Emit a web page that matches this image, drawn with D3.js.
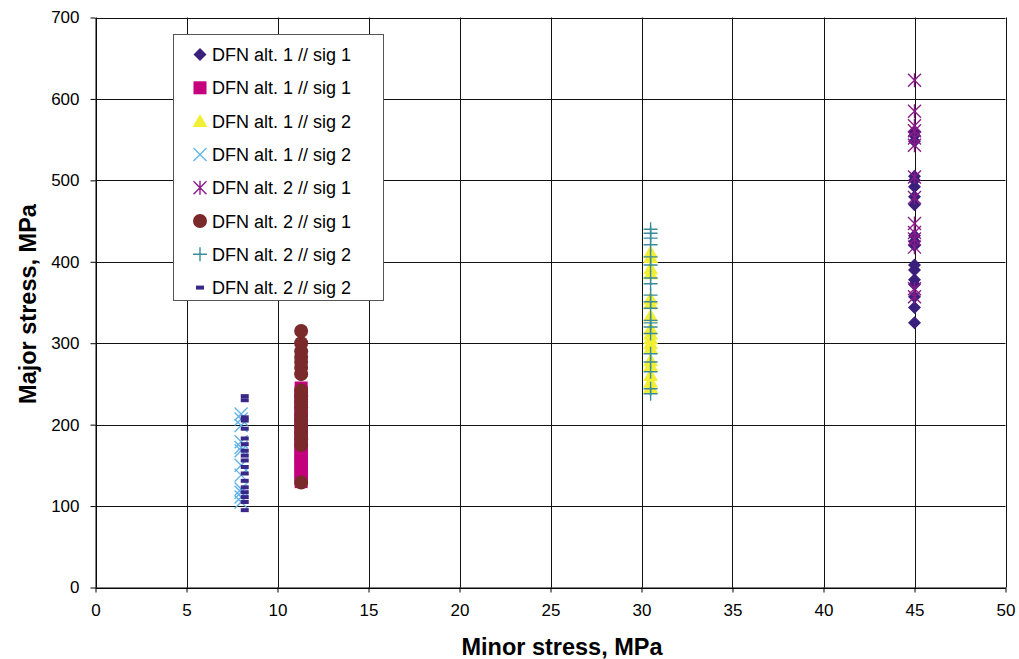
<!DOCTYPE html>
<html>
<head>
<meta charset="utf-8">
<script src="https://cdn.jsdelivr.net/npm/d3@7"></script>
<style>
  html, body { margin: 0; padding: 0; background: #fff; }
  svg { display: block; font-family: "Liberation Sans", Arial, sans-serif; }
</style>
</head>
<body>
<svg id="chart" width="1019" height="659"></svg>
<script>
// Axis ticks
const xTicks = [0, 5, 10, 15, 20, 25, 30, 35, 40, 45, 50];
const yTicks = [0, 100, 200, 300, 400, 500, 600, 700];

// Series names (legend order)
const seriesNames = [
  "DFN alt. 1 // sig 1",
  "DFN alt. 1 // sig 1",
  "DFN alt. 1 // sig 2",
  "DFN alt. 1 // sig 2",
  "DFN alt. 2 // sig 1",
  "DFN alt. 2 // sig 1",
  "DFN alt. 2 // sig 2",
  "DFN alt. 2 // sig 2"
];

// Minor stress (MPa) of each series
const minorStress = [45, 11.3, 30.5, 8.0, 45, 11.3, 30.5, 8.2];

// Major stress (MPa) values of each series
const alt1Sig1Diamond = [325, 344, 357, 372, 378, 390, 396, 420, 425, 432, 470, 480, 492, 500, 505, 548, 555, 560];
const alt1Sig1Square = [130, 134, 138, 141, 145, 148, 152, 155, 158, 162, 165, 169, 172, 176, 180, 183, 187, 190, 194, 198, 201, 205, 209, 212, 216, 220, 224, 228, 232, 236, 240, 245];
const alt1Sig2Triangle = [246, 253, 261, 273, 279, 294, 300, 306, 312, 318, 334, 349, 355, 386, 392, 406, 412];
const alt1Sig2Cross = [105, 111, 117, 121, 138, 150, 168, 172, 179, 199, 207, 213];
const alt2Sig1Asterisk = [357, 367, 418, 428, 436, 447, 479, 504, 543, 552, 561, 567, 585, 623];
const alt2Sig1Circle = [129, 175, 182, 190, 198, 205, 212, 221, 228, 235, 242, 262, 270, 277, 283, 290, 300, 315];
const alt2Sig2Plus = [238, 244, 265, 277, 287, 312, 320, 325, 328, 343, 351, 359, 373, 380, 396, 406, 421, 429, 435, 440];
const alt2Sig2Dash = [95, 105, 111, 117, 123, 131, 140, 148, 156, 162, 168, 176, 183, 195, 205, 209, 230, 235];

const seriesValues = [
  alt1Sig1Diamond, alt1Sig1Square, alt1Sig2Triangle, alt1Sig2Cross,
  alt2Sig1Asterisk, alt2Sig1Circle, alt2Sig2Plus, alt2Sig2Dash
];

// Marker style per series
const markerStyles = [
  { shape: "diamond",  color: "#3b1f7c" },
  { shape: "square",   color: "#c4007c" },
  { shape: "triangle", color: "#f2ee35" },
  { shape: "x",        color: "#62b4e8" },
  { shape: "asterisk", color: "#8a1a88" },
  { shape: "circle",   color: "#7a2a2a" },
  { shape: "plus",     color: "#3a8c9c" },
  { shape: "dash",     color: "#3a2888" }
];

const svg = d3.select("#chart");
const plotLeft = 95.5, plotRight = 1005.5, plotTop = 17.5, plotBottom = 587.5;

const x = d3.scaleLinear().domain([0, 50]).range([plotLeft, plotRight]);
const y = d3.scaleLinear().domain([0, 700]).range([plotBottom, plotTop]);

// Gridlines
const grid = svg.append("g");
grid.selectAll("line.v").data(xTicks).join("line")
  .attr("class", "v")
  .attr("x1", d => Math.round(x(d)) + 0.5).attr("x2", d => Math.round(x(d)) + 0.5)
  .attr("y1", plotTop).attr("y2", plotBottom)
  .attr("stroke", "#111").attr("stroke-width", 1);
grid.selectAll("line.h").data(yTicks).join("line")
  .attr("class", "h")
  .attr("y1", d => Math.round(y(d)) + 0.5).attr("y2", d => Math.round(y(d)) + 0.5)
  .attr("x1", plotLeft).attr("x2", plotRight)
  .attr("stroke", "#111").attr("stroke-width", 1);

// Axes
const xAxis = d3.axisBottom(x).tickValues(xTicks).tickSize(5).tickSizeOuter(0).tickPadding(11);
const yAxis = d3.axisLeft(y).tickValues(yTicks).tickSize(5).tickSizeOuter(0).tickPadding(11);

const gx = svg.append("g").attr("transform", `translate(0,${plotBottom})`).call(xAxis);
const gy = svg.append("g").attr("transform", `translate(${plotLeft},0)`).call(yAxis);
[gx, gy].forEach(g => {
  g.select(".domain").attr("stroke", "#000");
  g.selectAll(".tick line").attr("stroke", "#000");
  g.selectAll(".tick text")
    .attr("fill", "#000")
    .style("font-family", "'Liberation Sans', Arial, sans-serif")
    .style("font-size", "17px");
});

// Marker drawing
function drawMarker(g, shape, color, cx, cy) {
  switch (shape) {
    case "diamond":
      g.append("path").attr("d", `M${cx},${cy - 6.5}L${cx + 6.5},${cy}L${cx},${cy + 6.5}L${cx - 6.5},${cy}Z`)
        .attr("fill", color);
      break;
    case "square":
      g.append("rect").attr("x", cx - 6.5).attr("y", cy - 6.5).attr("width", 13).attr("height", 13)
        .attr("fill", color);
      break;
    case "triangle":
      g.append("path").attr("d", `M${cx},${cy - 7}L${cx + 7.5},${cy + 6}L${cx - 7.5},${cy + 6}Z`)
        .attr("fill", color);
      break;
    case "x":
      g.append("path").attr("d", `M${cx - 6.5},${cy - 6.5}L${cx + 6.5},${cy + 6.5}M${cx - 6.5},${cy + 6.5}L${cx + 6.5},${cy - 6.5}`)
        .attr("stroke", color).attr("stroke-width", 1.4).attr("fill", "none");
      break;
    case "asterisk":
      g.append("path").attr("d", `M${cx - 6.5},${cy - 6.5}L${cx + 6.5},${cy + 6.5}M${cx - 6.5},${cy + 6.5}L${cx + 6.5},${cy - 6.5}M${cx},${cy - 7}L${cx},${cy + 7}`)
        .attr("stroke", color).attr("stroke-width", 1.4).attr("fill", "none");
      break;
    case "circle":
      g.append("circle").attr("cx", cx).attr("cy", cy).attr("r", 7).attr("fill", color);
      break;
    case "plus":
      g.append("path").attr("d", `M${cx - 7},${cy}L${cx + 7},${cy}M${cx},${cy - 7}L${cx},${cy + 7}`)
        .attr("stroke", color).attr("stroke-width", 1.4).attr("fill", "none");
      break;
    case "dash":
      g.append("rect").attr("x", cx - 4).attr("y", cy - 2).attr("width", 8).attr("height", 4)
        .attr("fill", color);
      break;
  }
}

// Data points
const pts = svg.append("g");
seriesValues.forEach((vals, i) => {
  const g = pts.append("g");
  vals.forEach(v => drawMarker(g, markerStyles[i].shape, markerStyles[i].color, x(minorStress[i]), y(v)));
});

// Legend
const legend = svg.append("g");
legend.append("rect").attr("x", 173.5).attr("y", 34.5).attr("width", 210).attr("height", 266)
  .attr("fill", "#fff").attr("stroke", "#555").attr("stroke-width", 1);
seriesNames.forEach((name, i) => {
  const cy = 54.5 + i * 33.3;
  drawMarker(legend, markerStyles[i].shape, markerStyles[i].color, 200, cy);
  legend.append("text").attr("x", 212).attr("y", cy + 6.5)
    .style("font-size", "18px").attr("fill", "#000").text(name);
});

// Axis titles
svg.append("text").attr("x", 562).attr("y", 655).attr("text-anchor", "middle")
  .style("font-size", "23.5px").style("font-weight", "bold").text("Minor stress, MPa");
svg.append("text").attr("transform", "translate(36,304) rotate(-90)").attr("text-anchor", "middle")
  .style("font-size", "23.5px").style("font-weight", "bold").text("Major stress, MPa");
</script>
</body>
</html>
